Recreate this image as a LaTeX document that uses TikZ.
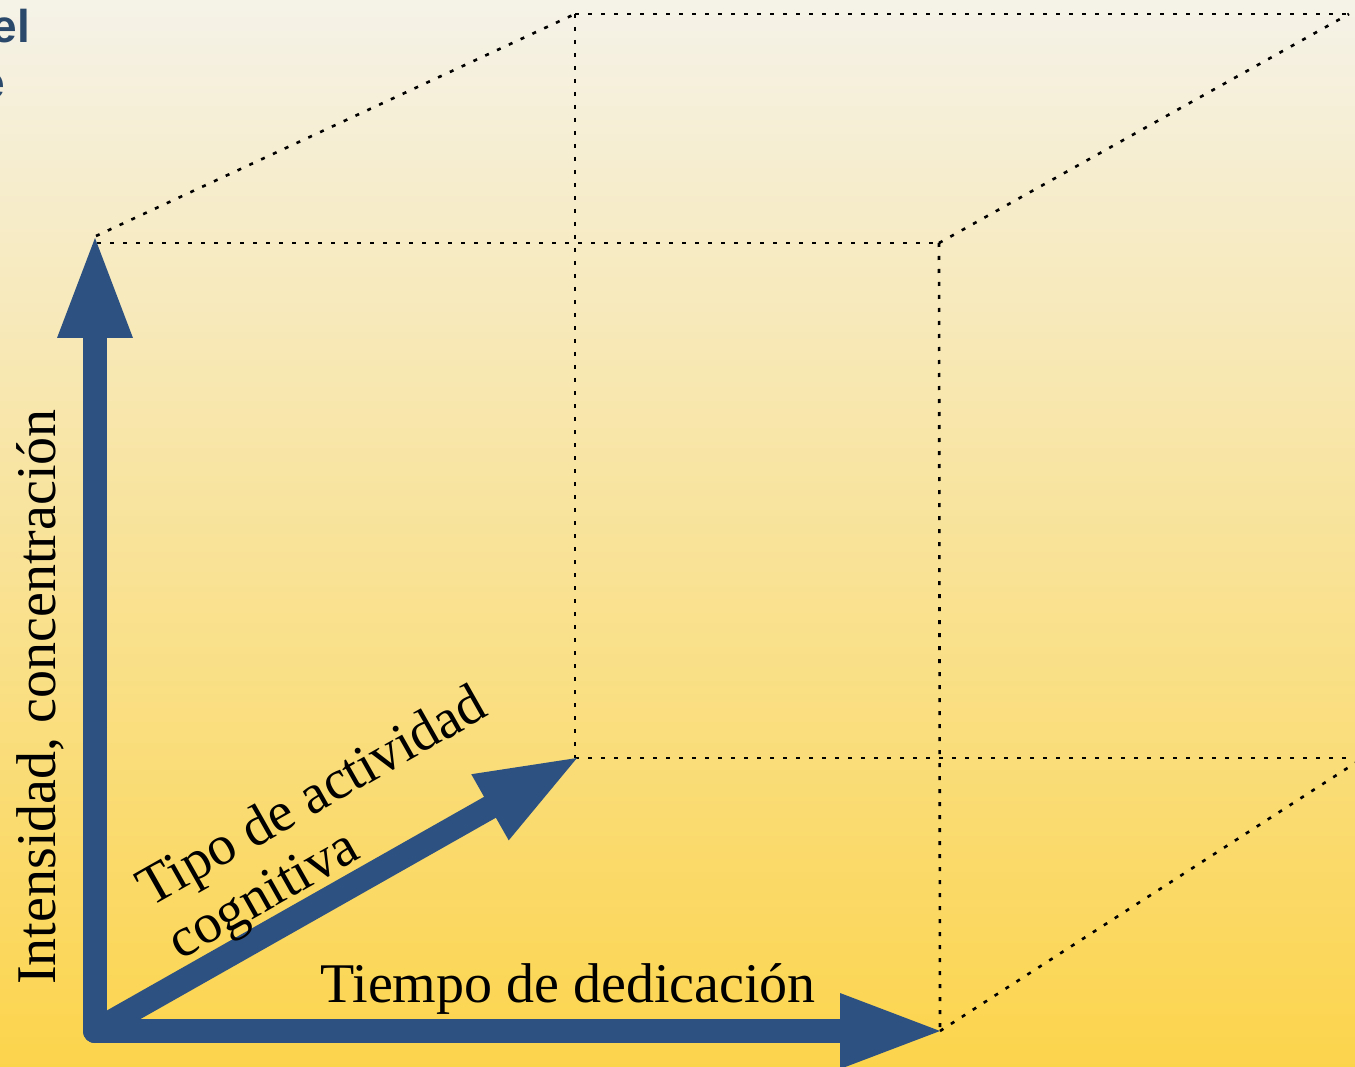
\documentclass[tikz,border=0pt]{standalone}
\usepackage{fontspec}
\setmainfont{Liberation Serif}
\newfontfamily\headsans{Liberation Sans}
\usetikzlibrary{arrows.meta}
\definecolor{axisblue}{HTML}{2D5281}
\definecolor{headblue}{HTML}{2B4A6B}
\definecolor{bgtop}{RGB}{245,242,232}
\definecolor{bgbot}{RGB}{252,212,76}
\begin{document}
\begin{tikzpicture}[x=1pt,y=-1pt,
  edge/.style={line width=2.6pt, dash pattern=on 4pt off 9pt, black},
  axis/.style={draw=axisblue, line width=24pt, line cap=round,
    -{Triangle[length=100pt,width=76pt,line width=0pt]}},
  lab/.style={font=\fontsize{56}{61}\selectfont, inner sep=0pt, text=black},
  head/.style={font=\headsans\bfseries\fontsize{46}{56}\selectfont, text=headblue, inner sep=0pt, anchor=base east}]
\shade[top color=bgtop, bottom color=bgbot] (0,0) rectangle (1355,1067);
\useasboundingbox (0,0) rectangle (1355,1067);
% cube corners
\coordinate (O) at (95,1031);
\coordinate (FTLd) at (96,236);
\coordinate (FTL) at (97,243);
\coordinate (FTR) at (939,243);
\coordinate (FBR) at (940,1031);
\coordinate (BTL) at (575,14);
\coordinate (BTR) at (1349,14);
\coordinate (BBL) at (575,758);
\coordinate (BBRh) at (1355,758);
\coordinate (BBR) at (1363,758);
% dotted edges
\draw[edge] (FTLd) -- (BTL);
\draw[edge] (FTL) -- (FTR);
\draw[edge] (BTL) -- (BTR);
\draw[edge] (FTR) -- (BTR);
\draw[edge] (BTL) -- (BBL);
\draw[edge] (FTR) -- (FBR);
\draw[edge] (BBL) -- (BBRh);
\draw[edge] (FBR) -- (BBR);
% axes
\coordinate (Ytip) at (95,238);
\coordinate (Xtip) at (940,1031);
\coordinate (Ztip) at (577,758);
\draw[axis] (O) -- (Ytip);
\draw[axis] (O) -- (Xtip);
\draw[axis] (O) -- (Ztip);
% labels
\node[lab, rotate=90, anchor=base] (ylab) at (55,697) {Intensidad, concentración};
\node[lab, anchor=base] (xlab) at (568,1002) {Tiempo de dedicación};
\node[lab, rotate=29.5, align=left] (zlab) at (329,826) {Tipo de actividad\\cognitiva};
% title fragments
\node[head] (h1) at (30,43) {el};
\node[head] (h2) at (5,99) {e};
\end{tikzpicture}
\end{document}
